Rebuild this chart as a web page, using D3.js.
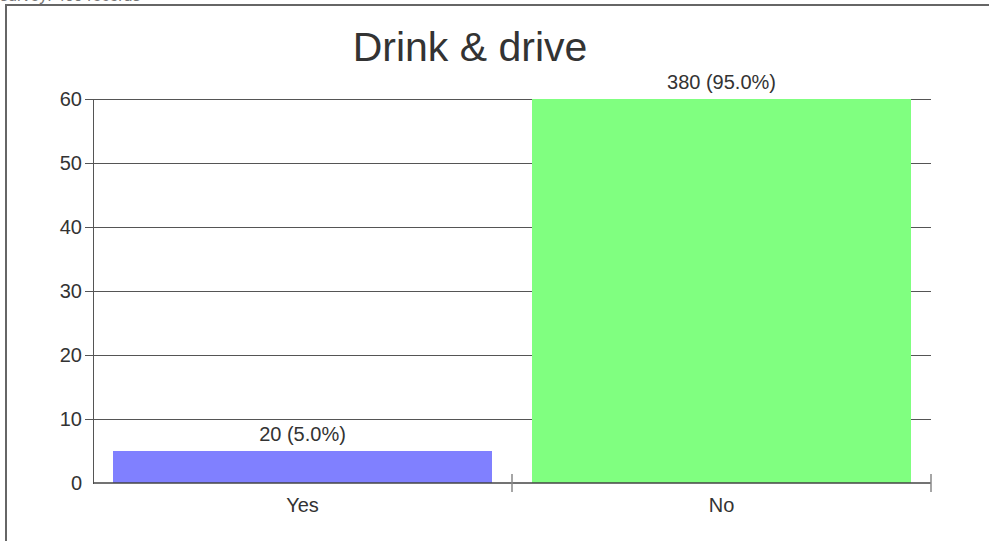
<!DOCTYPE html>
<html>
<head>
<meta charset="utf-8">
<script src="https://cdn.jsdelivr.net/npm/d3@7"></script>
<style>
  html, body { margin: 0; padding: 0; background: #fff; }
  svg { display: block; font-family: "Liberation Sans", Arial, sans-serif; }
</style>
</head>
<body>
<svg id="chart" width="989" height="541"></svg>
<script>
const title = "Drink & drive";
const topNote = "survey: 400 records";
const categories = ["Yes", "No"];
const counts = [20, 380];
const percents = [5.0, 95.0];
const colors = ["#8080ff", "#80ff80"];
const yTicks = [0, 10, 20, 30, 40, 50, 60];
const yMax = 60;

(function () {
const svg = d3.select("#chart");

// frame
svg.append("rect").attr("x", 6).attr("y", 5).attr("width", 1000).attr("height", 600)
  .attr("fill", "none").attr("stroke", "#666").attr("stroke-width", 2);

// note at very top, mostly cut off as in the reference
svg.append("text").attr("x", 0).attr("y", 1).attr("font-size", 16).attr("fill", "#777").text(topNote);

const pLeft = 93, pRight = 931, pTop = 99, pBottom = 483;

const x = d3.scaleBand().domain(categories).range([pLeft, pRight])
  .paddingInner(0.0978).paddingOuter(0.0489);
const xOuter = d3.scaleBand().domain(categories).range([pLeft, pRight]).padding(0);
const y = d3.scaleLinear().domain([0, yMax]).range([pBottom, pTop]);

// gridlines
svg.append("g").selectAll("line").data(yTicks.filter(d => d > 0)).join("line")
  .attr("x1", pLeft - 8).attr("x2", pRight)
  .attr("y1", d => y(d)).attr("y2", d => y(d))
  .attr("stroke", "#555").attr("stroke-width", 1).attr("shape-rendering", "crispEdges");

// bars (clipped at axis max)
svg.append("g").selectAll("rect").data(categories).join("rect")
  .attr("x", d => x(d))
  .attr("width", x.bandwidth())
  .attr("y", (d, i) => y(Math.min(percents[i], yMax)))
  .attr("height", (d, i) => pBottom - y(Math.min(percents[i], yMax)))
  .attr("fill", (d, i) => colors[i])
  .attr("shape-rendering", "crispEdges");

// y axis
const yAxis = d3.axisLeft(y).tickValues(yTicks).tickSize(0).tickPadding(11);
const gy = svg.append("g").attr("transform", `translate(${pLeft},0)`).call(yAxis);
gy.select(".domain").attr("stroke", "#555").attr("shape-rendering", "crispEdges");
gy.selectAll("text").attr("font-size", 20).attr("fill", "#333")
  .attr("font-family", "'Liberation Sans', Arial, sans-serif");

// x axis line
svg.append("line").attr("x1", pLeft).attr("x2", pRight).attr("y1", pBottom).attr("y2", pBottom)
  .attr("stroke", "#444").attr("stroke-width", 1.5);

// x ticks at band boundaries
const boundaries = categories.map(c => xOuter(c) + xOuter.bandwidth());
svg.append("g").selectAll("line").data(boundaries).join("line")
  .attr("x1", d => d).attr("x2", d => d)
  .attr("y1", pBottom - 9).attr("y2", pBottom + 9)
  .attr("stroke", "#888").attr("stroke-width", 1.5);

// x labels
svg.append("g").selectAll("text").data(categories).join("text")
  .attr("x", d => x(d) + x.bandwidth() / 2)
  .attr("y", pBottom + 29)
  .attr("text-anchor", "middle").attr("font-size", 20).attr("fill", "#333")
  .text(d => d);

// value labels
svg.append("g").selectAll("text").data(categories).join("text")
  .attr("x", d => x(d) + x.bandwidth() / 2)
  .attr("y", (d, i) => y(Math.min(percents[i], yMax)) - 10)
  .attr("text-anchor", "middle").attr("font-size", 20).attr("fill", "#333")
  .text((d, i) => `${counts[i]} (${percents[i].toFixed(1)}%)`);

// title
svg.append("text").attr("x", 470).attr("y", 61).attr("text-anchor", "middle")
  .attr("font-size", 41).attr("fill", "#333").text(title);
})();
</script>
</body>
</html>
